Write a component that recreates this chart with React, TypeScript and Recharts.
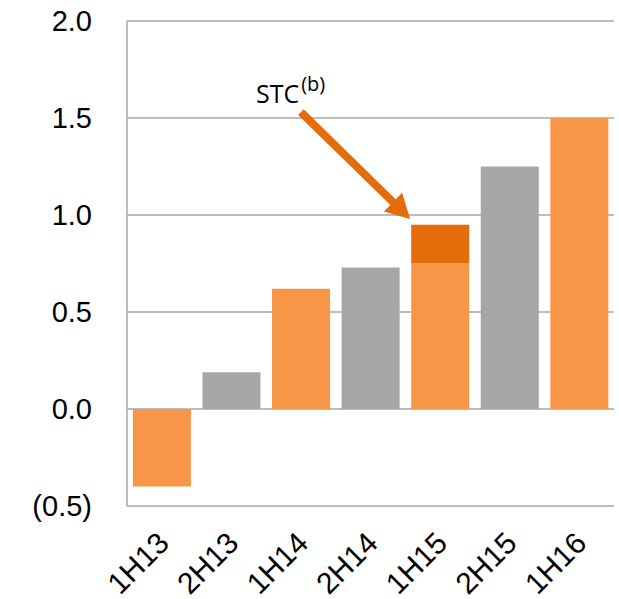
import React from 'react';
import { BarChart, Bar, XAxis, YAxis, CartesianGrid, Cell, ReferenceLine } from 'recharts';

const categories = ['1H13', '2H13', '1H14', '2H14', '1H15', '2H15', '1H16'];
const baseValues = [-0.4, 0.19, 0.62, 0.73, 0.75, 1.25, 1.5];
const stcValues = [0, 0, 0, 0, 0.2, 0, 0];
const yTicks = [-0.5, 0, 0.5, 1.0, 1.5, 2.0];

const ORANGE = '#F79646';
const GRAY = '#A6A6A6';
const DARK_ORANGE = '#E46C0A';
const GRID = '#A6A6A6';

const data = categories.map((c, i) => ({ name: c, base: baseValues[i], stc: stcValues[i], idx: i + 0.5 }));

const fmt = (v: number) => (v < 0 ? `(${Math.abs(v).toFixed(1)})` : v.toFixed(1));

const XTick = (props: any) => {
  const { x, y, payload } = props;
  const ax = x + 9;
  const ay = y + 31;
  return (
    <text
      x={ax}
      y={ay}
      textAnchor="end"
      transform={`rotate(-45 ${ax} ${ay})`}
      fontFamily="Liberation Sans, Arial, sans-serif"
      fontSize={30}
      fill="#000"
    >
      {payload.value}
    </text>
  );
};

const ArrowShape = (props: any) => {
  const { x1, y1, x2, y2 } = props;
  if (x1 == null) return null;
  const dx = x2 - x1;
  const dy = y2 - y1;
  const len = Math.sqrt(dx * dx + dy * dy);
  const ux = dx / len;
  const uy = dy / len;
  const headLen = 24;
  const headHalf = 13;
  const bx = x2 - ux * headLen;
  const by = y2 - uy * headLen;
  const px = -uy;
  const py = ux;
  return (
    <g>
      <line x1={x1} y1={y1} x2={bx + ux * 2} y2={by + uy * 2} stroke={DARK_ORANGE} strokeWidth={8} />
      <polygon
        points={`${x2},${y2} ${bx + px * headHalf},${by + py * headHalf} ${bx - px * headHalf},${by - py * headHalf}`}
        fill={DARK_ORANGE}
      />
      <text x={x1 - 45} y={y1 - 9} fontFamily="Open Sans, Noto Sans, sans-serif" fontSize={25} fill="#000">
        STC
        <tspan fontSize={20} dx={2} dy={-12}>(b)</tspan>
      </text>
    </g>
  );
};

export default function App() {
  return (
    <div style={{ position: 'absolute', left: 0, top: 0, background: '#fff' }}>
      <BarChart
        width={619}
        height={599}
        data={data}
        margin={{ top: 21, right: 5, left: 0, bottom: 0 }}
        barCategoryGap="8.5%"
      >
        <CartesianGrid vertical={false} stroke={GRID} strokeWidth={1.5} />
        <XAxis
          dataKey="name"
          axisLine={false}
          tickLine={false}
          height={93}
          interval={0}
          tick={<XTick />}
        />
        <XAxis xAxisId="n" type="number" dataKey="idx" domain={[0, 7]} hide />
        <YAxis
          domain={[-0.5, 2.0]}
          ticks={yTicks}
          tickFormatter={fmt}
          width={127}
          tickLine={false}
          tickSize={0}
          tickMargin={35}
          axisLine={{ stroke: GRID, strokeWidth: 1.5 }}
          tick={{ fontFamily: 'Liberation Sans, Arial, sans-serif', fontSize: 29, fill: '#000' }}
          interval={0}
        />
        <Bar dataKey="base" stackId="a" isAnimationActive={false}>
          {data.map((d, i) => (
            <Cell key={d.name} fill={i % 2 === 0 ? ORANGE : GRAY} />
          ))}
        </Bar>
        <Bar dataKey="stc" stackId="a" fill={DARK_ORANGE} isAnimationActive={false} />
        <ReferenceLine
          xAxisId="n"
          segment={[
            { x: 2.5, y: 1.53 },
            { x: 4.07, y: 0.98 },
          ]}
          shape={<ArrowShape />}
          ifOverflow="visible"
        />
      </BarChart>
    </div>
  );
}
